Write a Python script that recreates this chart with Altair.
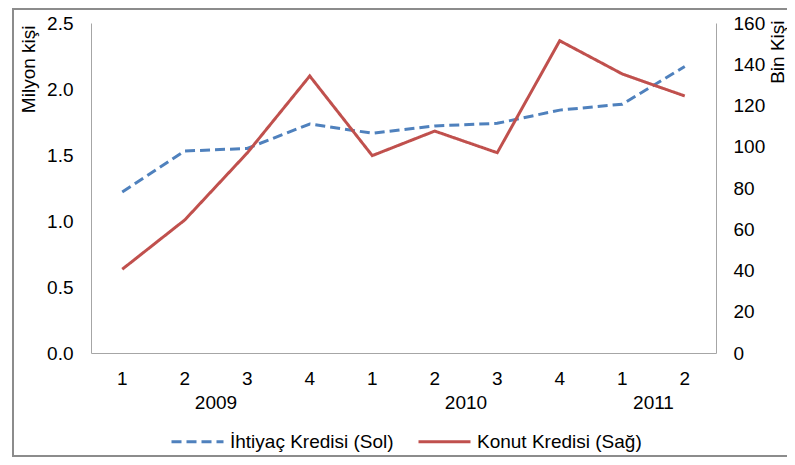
import altair as alt
import pandas as pd

years = ["2009", "2009", "2009", "2009", "2010", "2010", "2010", "2010", "2011", "2011"]
quarters = ["1", "2", "3", "4", "1", "2", "3", "4", "1", "2"]
ihtiyac = [1.22, 1.53, 1.55, 1.735, 1.665, 1.72, 1.74, 1.84, 1.885, 2.17]
konut = [40.6, 64.5, 97.0, 134.3, 95.7, 107.6, 97.1, 151.4, 135.3, 124.6]
year_labels = ["2009", "2010", "2011"]
year_anchor = ["2009-2", "2010-2", "2011-1"]
s1 = "İhtiyaç Kredisi (Sol)"
s2 = "Konut Kredisi (Sağ)"
left_ticks = [0, 0.5, 1.0, 1.5, 2.0, 2.5]
right_ticks = [0, 20, 40, 60, 80, 100, 120, 140, 160]

cats = [f"{y}-{q}" for y, q in zip(years, quarters)]
df1 = pd.DataFrame({"cat": cats, "value": ihtiyac, "series": s1})
df2 = pd.DataFrame({"cat": cats, "value": konut, "series": s2})
dfy = pd.DataFrame({"cat": year_anchor, "year": year_labels})

FS = 19
x_scale = alt.Scale(type="band", domain=cats, paddingInner=0, paddingOuter=0)
x_axis = alt.Axis(title=None, labelExpr="split(datum.value, '-')[1]", ticks=False,
                  domain=True, domainColor="#A6A6A6", labelPadding=16, labelAngle=0,
                  labelFontSize=FS, labelColor="#000000", grid=False)

color = alt.Color("series:N", scale=alt.Scale(domain=[s1, s2], range=["#4F81BD", "#C0504D"]),
                  legend=alt.Legend(title=None))
dash = alt.StrokeDash("series:N", scale=alt.Scale(domain=[s1, s2], range=[[10, 5], [1, 0]]),
                      legend=alt.Legend(title=None))

left = alt.Chart(df1).mark_line(strokeWidth=3).encode(
    x=alt.X("cat:N", scale=x_scale, axis=x_axis, bandPosition=0.5),
    y=alt.Y("value:Q", scale=alt.Scale(domain=[0, 2.5]),
            axis=alt.Axis(title="Milyon kişi", orient="left", values=left_ticks, format=".1f",
                          grid=False, ticks=False, domainColor="#A6A6A6", labelPadding=18,
                          labelFontSize=FS, labelColor="#000000",
                          titleAngle=270, titleX=-63, titleY=2, titleAlign="right",
                          titleBaseline="middle", titleFontSize=FS, titleFontWeight="normal",
                          titleColor="#000000")),
    color=color, strokeDash=dash,
)

right = alt.Chart(df2).mark_line(strokeWidth=3).encode(
    x=alt.X("cat:N", scale=x_scale, axis=x_axis, bandPosition=0.5),
    y=alt.Y("value:Q", scale=alt.Scale(domain=[0, 160]),
            axis=alt.Axis(title="Bin Kişi", orient="right", values=right_ticks,
                          grid=False, ticks=False, domainColor="#A6A6A6", labelPadding=17,
                          labelFontSize=FS, labelColor="#000000",
                          titleAngle=270, titleX=61, titleY=-3, titleAlign="right",
                          titleBaseline="middle", titleFontSize=FS, titleFontWeight="normal",
                          titleColor="#000000")),
    color=color, strokeDash=dash,
)

year_text = alt.Chart(dfy).mark_text(fontSize=FS, color="#000000", baseline="middle").encode(
    x=alt.X("cat:N", scale=x_scale, axis=x_axis, bandPosition=1),
    y=alt.value(380),
    text="year:N",
)

border = alt.Chart(pd.DataFrame({"a": [0]})).mark_rect(filled=False, stroke="#8C8C8C", strokeWidth=2).encode(
    x=alt.value(-78), x2=alt.value(720), y=alt.value(-14), y2=alt.value(433)
)

chart = alt.layer(border, left, right, year_text).resolve_scale(y="independent").properties(
    width=625, height=330,
    autosize=alt.AutoSizeParams(type="none"),
    padding={"left": 83, "top": 15, "right": 71, "bottom": 104},
).configure(font="Liberation Sans").configure_view(stroke=None).configure_legend(
    orient="none", legendX=79, legendY=391, direction="horizontal",
    symbolType="stroke", symbolSize=2704, symbolStrokeWidth=3,
    labelFontSize=FS, labelColor="#000000", labelOffset=5, columnPadding=18,
    labelLimit=400, labelFont="Liberation Sans",
)

chart.save("out.html", embed_options={"renderer": "svg", "actions": False})
